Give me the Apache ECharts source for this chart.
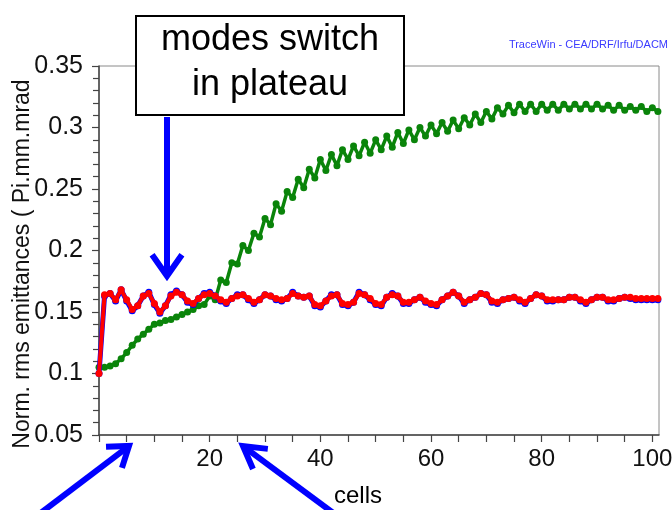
<!DOCTYPE html>
<html>
<head>
<meta charset="utf-8">
<script src="https://cdn.jsdelivr.net/npm/echarts@6/dist/echarts.min.js"></script>
<style>html,body{margin:0;padding:0;background:#fff}#c{width:672px;height:510px}</style>
</head>
<body>
<div id="c"></div>
<script>
const cells = [0,1,2,3,4,5,6,7,8,9,10,11,12,13,14,15,16,17,18,19,20,21,22,23,24,25,26,27,28,29,30,31,32,33,34,35,36,37,38,39,40,41,42,43,44,45,46,47,48,49,50,51,52,53,54,55,56,57,58,59,60,61,62,63,64,65,66,67,68,69,70,71,72,73,74,75,76,77,78,79,80,81,82,83,84,85,86,87,88,89,90,91,92,93,94,95,96,97,98,99,100,101];

const greenVals = [0.105,0.105,0.106,0.108,0.112,0.117,0.123,0.128,0.132,0.136,0.140,0.141,0.143,0.144,0.146,0.148,0.150,0.152,0.155,0.156,
0.163,0.160,0.176,0.174,0.190,0.189,0.204,0.200,0.214,0.211,0.226,0.221,0.238,0.232,0.248,0.243,0.258,0.251,0.266,0.259,
0.274,0.265,0.278,0.269,0.282,0.274,0.285,0.277,0.288,0.279,0.290,0.282,0.293,0.284,0.296,0.287,0.298,0.290,0.300,0.293,
0.302,0.295,0.304,0.297,0.306,0.299,0.308,0.302,0.311,0.304,0.313,0.307,0.316,0.311,0.318,0.312,0.319,0.313,0.319,0.313,
0.319,0.314,0.319,0.314,0.319,0.315,0.319,0.315,0.319,0.315,0.319,0.315,0.318,0.314,0.318,0.314,0.317,0.314,0.317,0.313,
0.316,0.313];

const redVals = [0.100,0.164,0.165,0.160,0.168,0.160,0.152,0.155,0.163,0.165,0.157,0.150,0.155,0.163,0.166,0.164,0.159,0.157,0.161,0.164,
0.165,0.163,0.160,0.158,0.161,0.163,0.164,0.161,0.158,0.160,0.164,0.163,0.161,0.160,0.161,0.165,0.163,0.162,0.163,0.156,
0.155,0.159,0.163,0.164,0.157,0.156,0.158,0.165,0.164,0.161,0.157,0.156,0.162,0.164,0.163,0.158,0.158,0.160,0.162,0.159,
0.157,0.156,0.160,0.163,0.166,0.163,0.158,0.160,0.162,0.165,0.164,0.159,0.158,0.160,0.161,0.162,0.160,0.158,0.161,0.164,
0.163,0.160,0.160,0.160,0.160,0.162,0.162,0.160,0.158,0.160,0.162,0.162,0.160,0.160,0.161,0.162,0.162,0.161,0.161,0.161,
0.161,0.161];

const blueVals = [0.100,0.163,0.165,0.159,0.168,0.159,0.151,0.155,0.163,0.166,0.156,0.149,0.155,0.164,0.167,0.164,0.158,0.156,0.161,0.165,
0.166,0.163,0.159,0.157,0.161,0.164,0.164,0.160,0.157,0.160,0.164,0.163,0.160,0.159,0.161,0.166,0.163,0.162,0.163,0.155,
0.154,0.159,0.164,0.164,0.156,0.155,0.158,0.166,0.164,0.160,0.156,0.155,0.162,0.165,0.163,0.157,0.157,0.160,0.162,0.158,
0.156,0.155,0.160,0.163,0.166,0.163,0.157,0.160,0.162,0.165,0.164,0.158,0.157,0.160,0.161,0.162,0.159,0.157,0.161,0.164,
0.163,0.159,0.159,0.160,0.160,0.162,0.162,0.159,0.157,0.160,0.162,0.162,0.159,0.159,0.161,0.162,0.161,0.160,0.160,0.160,
0.160,0.160];

const xTickLabels = [20,40,60,80,100];
const yTickLabels = [0.05,0.1,0.15,0.2,0.25,0.3,0.35];

const pair = (vals) => cells.map((c, i) => [c, vals[i]]);

function arrow(tail, tip, armLen, angDeg, width, color) {
  const dx = tail[0] - tip[0], dy = tail[1] - tip[1];
  const L = Math.sqrt(dx*dx + dy*dy);
  const ux = dx / L, uy = dy / L;
  const a = angDeg * Math.PI / 180;
  const r1 = [tip[0] + armLen * (ux*Math.cos(a) - uy*Math.sin(a)), tip[1] + armLen * (ux*Math.sin(a) + uy*Math.cos(a))];
  const r2 = [tip[0] + armLen * (ux*Math.cos(-a) - uy*Math.sin(-a)), tip[1] + armLen * (ux*Math.sin(-a) + uy*Math.cos(-a))];
  return [
    {type:'line', z:100, shape:{x1:tail[0], y1:tail[1], x2:tip[0]+ux*3, y2:tip[1]+uy*3}, style:{stroke:color, lineWidth:width}},
    {type:'polyline', z:100, shape:{points:[r1, tip, r2]}, style:{stroke:color, lineWidth:width, fill:null, lineJoin:'miter'}}
  ];
}

const chart = echarts.init(document.getElementById('c'), null, {renderer:'canvas'});
const blueC = '#0000ff';
const option = {
  backgroundColor: '#ffffff',
  animation: false,
  grid: {left: 99, top: 66, right: 13, bottom: 75, containLabel: false, outerBoundsMode: 'none',
    show: true, borderColor: '#8a8a8a', borderWidth: 1},
  xAxis: {
    type: 'value', min: 0, max: 101.2, interval: 5,
    axisLine: {show: true, lineStyle: {color: '#444', width: 1.5}},
    axisTick: {show: true, length: 7, lineStyle: {color: '#444', width: 1.2}},
    axisLabel: {
      margin: 12, color: '#111', fontSize: 24, fontFamily: 'Arial, Liberation Sans',
      showMaxLabel: false,
      formatter: (v) => xTickLabels.indexOf(Math.round(v)) >= 0 ? String(Math.round(v)) : ''
    },
    splitLine: {show: false}
  },
  yAxis: {
    type: 'value', min: 0.05, max: 0.35, interval: 0.05,
    name: 'Norm. rms emittances ( Pi.mm.mrad',
    nameLocation: 'middle', nameGap: 65, nameRotate: 90, nameMoveOverlap: false,
    nameTextStyle: {color: '#111', fontSize: 23, fontFamily: 'Arial, Liberation Sans', padding: [0, 27, 0, 0]},
    axisLine: {show: true, lineStyle: {color: '#444', width: 1.5}},
    axisTick: {show: true, length: 7, lineStyle: {color: '#444', width: 1.2}},
    minorTick: {show: true, splitNumber: 5, length: 6, lineStyle: {color: '#444', width: 1.2}},
    axisLabel: {
      margin: 16, color: '#111', fontSize: 25, fontFamily: 'Arial, Liberation Sans',
      formatter: (v) => {
        const r = parseFloat(v.toFixed(2));
        return yTickLabels.indexOf(r) >= 0 ? String(r) : '';
      }
    },
    splitLine: {show: false}
  },
  series: [
    {type: 'line', name: 'green', data: pair(greenVals), color: '#0a840a',
      lineStyle: {width: 3.5, color: '#0a840a'}, symbol: 'circle', symbolSize: 7, showSymbol: true,
      itemStyle: {color: '#0a840a'}, z: 3},
    {type: 'line', name: 'blue', data: pair(blueVals), color: blueC,
      lineStyle: {width: 5, color: blueC}, symbol: 'circle', symbolSize: 7, showSymbol: true,
      itemStyle: {color: blueC}, z: 4},
    {type: 'line', name: 'red', data: pair(redVals), color: '#ff0000',
      lineStyle: {width: 4, color: '#ff0000'}, symbol: 'circle', symbolSize: 7, showSymbol: true,
      itemStyle: {color: '#ff0000'}, z: 5}
  ],
  graphic: [
    {type: 'rect', z: 90, shape: {x: 136, y: 16, width: 268, height: 99}, style: {fill: '#fff', stroke: '#000', lineWidth: 2}},
    {type: 'text', z: 91, x: 270, y: 40, style: {text: 'modes switch', font: '36px Arial, "Liberation Sans"', fill: '#000', textAlign: 'center', textVerticalAlign: 'middle'}},
    {type: 'text', z: 91, x: 270, y: 85, style: {text: 'in plateau', font: '36px Arial, "Liberation Sans"', fill: '#000', textAlign: 'center', textVerticalAlign: 'middle'}},
    {type: 'text', z: 91, x: 668, y: 45, style: {text: 'TraceWin - CEA/DRF/Irfu/DACM', font: '11px Arial, "Liberation Sans"', fill: '#3a3aff', textAlign: 'right', textVerticalAlign: 'middle'}},
    {type: 'text', z: 91, x: 334, y: 496, style: {text: 'cells', font: '24px Arial, "Liberation Sans"', fill: '#000', textAlign: 'left', textVerticalAlign: 'middle'}},
    ...arrow([167, 117], [167, 276], 26, 35, 6, blueC),
    ...arrow([38, 515], [129, 446], 23, 35, 6, blueC),
    ...arrow([336, 515], [243, 446], 25, 30, 6, blueC)
  ]
};
chart.setOption(option);
</script>
</body>
</html>
